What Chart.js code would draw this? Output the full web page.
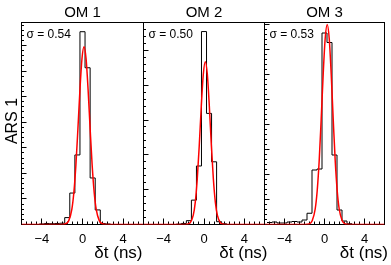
<!DOCTYPE html>
<html>
<head>
<meta charset="utf-8">
<title>OM timing</title>
<script src="https://cdn.jsdelivr.net/npm/chart.js@4.4.1/dist/chart.umd.min.js"></script>
<style>
  html, body { margin: 0; padding: 0; background: #fff; }
  #wrap { position: relative; width: 391px; height: 265px; }
  #wrap canvas { position: absolute; left: 0; top: 0; }
</style>
</head>
<body>
<div id="wrap">
  <canvas id="om1" width="391" height="265"></canvas>
  <canvas id="om2" width="391" height="265"></canvas>
  <canvas id="om3" width="391" height="265"></canvas>
</div>
<script>
// histogram bins (centres, ns)
const binCenters = [-5.5, -5, -4.5, -4, -3.5, -3, -2.5, -2, -1.5, -1, -0.5, 0, 0.5, 1, 1.5, 2, 2.5, 3, 3.5, 4, 4.5, 5, 5.5];
const binHalfWidth = 0.25;

const om1Counts = [0, 0, 0, 2, 4, 3, 4, 5, 27, 123, 272, 754, 613, 182, 57, 4, 2, 0, 0, 0, 0, 0, 0];
const om2Counts = [0, 0, 0, 0, 0, 0, 1, 3, 11, 70, 168, 554, 319, 180, 8, 2, 0, 0, 0, 0, 0, 0, 0];
const om3Counts = [8, 10, 6, 6, 10, 12, 10, 18, 45, 218, 222, 766, 728, 278, 58, 14, 3, 0, 0, 0, 0, 0, 0];

// red fit curves
const om1FitX = [-6, -2.05, -1.65, -1.35, -1.05, -0.85, -0.65, -0.45, -0.25, -0.05, 0.15, 0.35, 0.55, 0.75, 0.95, 1.15, 1.35, 1.65, 1.95, 2.35, 6];
const om1FitY = [0, 0, 3, 15, 59, 125, 232, 375, 528, 649, 695, 649, 528, 375, 232, 125, 59, 15, 3, 0, 0];
const om2FitX = [-6, -2.07, -1.67, -1.37, -1.07, -0.87, -0.67, -0.47, -0.27, -0.07, 0.13, 0.33, 0.53, 0.73, 0.93, 1.13, 1.33, 1.63, 1.93, 2.33, 6];
const om2FitY = [0, 0, 1, 5, 26, 63, 130, 227, 339, 431, 467, 431, 339, 227, 130, 63, 26, 5, 1, 0, 0];
const om3FitX = [-6, -1.93, -1.53, -1.23, -0.93, -0.73, -0.53, -0.33, -0.13, 0.07, 0.27, 0.47, 0.67, 0.87, 1.07, 1.27, 1.47, 1.77, 2.07, 2.47, 6];
const om3FitY = [0, 0, 2, 15, 62, 135, 256, 422, 602, 745, 800, 745, 602, 422, 256, 135, 62, 15, 2, 0, 0];

const titles = ['OM 1', 'OM 2', 'OM 3'];
const sigmas = [0.54, 0.50, 0.53];
const yMaxes = [790, 580, 808];
const xTickLabels = [-4, 0, 4];
const yMajorStep = 100;
const yMinorStep = 20;

// pad geometry
const panels = [
    { id: 'om1', left: 21.5, right: 143.5, titleEnd: 142.5, yLabel: 'ARS 1' },
    { id: 'om2', left: 143.5, right: 264.5, titleEnd: 267.5 },
    { id: 'om3', left: 264.5, right: 384.5, titleEnd: 388 },
];
const W = 391, H = 265, TOP = 22.5, BOTTOM = 224.5;
const FONT = '"Liberation Sans", Arial, Helvetica, sans-serif';

const histPoints = (counts) => {
    const pts = binCenters.map((c, i) => ({ x: c - binHalfWidth, y: counts[i] }));
    const last = binCenters.length - 1;
    pts.push({ x: binCenters[last] + binHalfWidth, y: counts[last] });
    return pts;
};
const curvePoints = (xs, ys) => xs.map((x, i) => ({ x, y: ys[i] }));

const panelDecor = {
    id: 'panelDecor',
    beforeDatasetsDraw(chart, args, opts) {
        const ctx = chart.ctx;
        const { left, right, top, bottom } = chart.chartArea;
        const xs = chart.scales.x;
        const ys = chart.scales.y;
        ctx.save();
        ctx.strokeStyle = '#000';
        ctx.lineWidth = 1;
        ctx.strokeRect(left, top, right - left, bottom - top);

        // inward ticks
        ctx.beginPath();
        for (let k = -11; k <= 11; k++) {
            const v = k / 2;
            const px = Math.floor(xs.getPixelForValue(v)) + 0.5;
            const len = v % 4 === 0 ? 6 : 3;
            ctx.moveTo(px, bottom);
            ctx.lineTo(px, bottom - len);
        }
        for (let v = yMinorStep; v < ys.max; v += yMinorStep) {
            const py = Math.floor(ys.getPixelForValue(v)) + 0.5;
            const len = v % yMajorStep === 0 ? 5 : 2.5;
            ctx.moveTo(left, py);
            ctx.lineTo(left + len, py);
        }
        ctx.stroke();

        ctx.fillStyle = '#000';
        ctx.textBaseline = 'alphabetic';
        ctx.font = '15px ' + FONT;
        ctx.textAlign = 'center';
        ctx.fillText(opts.title, (left + right) / 2, 16.5);

        ctx.font = '12px ' + FONT;
        ctx.textAlign = 'left';
        ctx.fillText('σ = ' + opts.sigma.toFixed(2), left + 5, 37.5);

        ctx.font = '13px ' + FONT;
        ctx.textAlign = 'center';
        xTickLabels.forEach((v) => {
            const txt = v < 0 ? '\u2212' + Math.abs(v) : String(v);
            ctx.fillText(txt, xs.getPixelForValue(v), 242.5);
        });

        ctx.font = '17px ' + FONT;
        ctx.textAlign = 'right';
        ctx.fillText('δt (ns)', opts.titleEnd, 258);

        if (opts.yLabel) {
            ctx.translate(16.5, 121);
            ctx.rotate(-Math.PI / 2);
            ctx.font = '16px ' + FONT;
            ctx.textAlign = 'center';
            ctx.fillText(opts.yLabel, 0, 0);
        }
        ctx.restore();
    },
};

const allCounts = [om1Counts, om2Counts, om3Counts];
const allFits = [[om1FitX, om1FitY], [om2FitX, om2FitY], [om3FitX, om3FitY]];

panels.forEach((p, i) => {
    const config = {
        type: 'line',
        data: {
            datasets: [
                {
                    label: 'fit',
                    data: curvePoints(allFits[i][0], allFits[i][1]),
                    borderColor: '#ff0000',
                    borderWidth: 1.5,
                    cubicInterpolationMode: 'monotone',
                    pointRadius: 0,
                    fill: false,
                    order: 0,
                },
                {
                    label: 'hist',
                    data: histPoints(allCounts[i]),
                    borderColor: '#000000',
                    borderWidth: 1,
                    stepped: true,
                    pointRadius: 0,
                    fill: false,
                    order: 1,
                },
            ],
        },
        options: {
            responsive: false,
            animation: false,
            devicePixelRatio: 1,
            layout: {
                padding: { left: p.left, right: W - p.right, top: TOP, bottom: H - BOTTOM },
            },
            scales: {
                x: { type: 'linear', min: -6, max: 6, display: false },
                y: { type: 'linear', min: 0, max: yMaxes[i], display: false },
            },
            plugins: {
                legend: { display: false },
                tooltip: { enabled: false },
                panelDecor: { title: titles[i], sigma: sigmas[i], titleEnd: p.titleEnd, yLabel: p.yLabel },
            },
        },
        plugins: [panelDecor],
    };
    new Chart(document.getElementById(p.id), config);
});
</script>
</body>
</html>
